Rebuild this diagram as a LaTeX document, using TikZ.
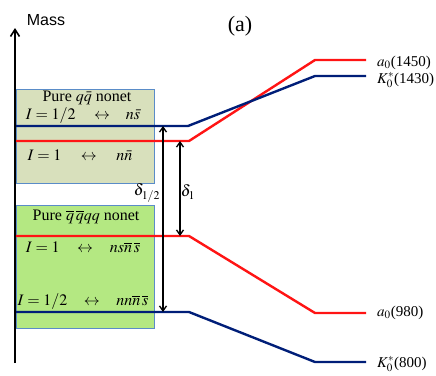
\documentclass[tikz,border=0pt]{standalone}
\usepackage{mathptmx}
\usepackage{fontspec}
\setmainfont{Liberation Serif}
\setsansfont{Liberation Sans}
\usetikzlibrary{arrows.meta}
\definecolor{levelred}{RGB}{255,20,20}
\definecolor{levelblue}{RGB}{0,30,120}
\definecolor{boxedge}{RGB}{90,140,200}
\definecolor{qqfill}{RGB}{216,224,188}
\definecolor{tetrafill}{RGB}{180,232,130}

\begin{document}
\begin{tikzpicture}[
    x=1pt, y=-1pt,
    nonet/.style={draw=boxedge, line width=0.8pt},
    level/.style={line width=2.4pt},
    split/.style={{Straight Barb[length=5pt,width=7pt]}-{Straight Barb[length=5pt,width=7pt]}, line width=1.3pt},
    state/.style={right, text=black, font=\fontsize{15}{17}\selectfont, inner sep=0pt, xshift=10pt},
    boxtext/.style={font=\fontsize{16}{18}\selectfont, inner sep=1pt}
]
  \useasboundingbox (0,0) rectangle (436,375);

  % the two pure nonets
  \draw[nonet, fill=qqfill] (16,89) rectangle (154,183);
  \draw[nonet, fill=tetrafill] (16,205) rectangle (154,328);
  \node[boxtext] (qqtitle) at (87,98) {Pure $q\bar{q}$ nonet};
  \node[boxtext] (qqhalf) at (83,116) {$I=1/2\hspace{15pt}\leftrightarrow\hspace{12pt}n\bar{s}$};
  \node[boxtext] (qqone) at (80,155) {$I=1\hspace{16pt}\leftrightarrow\hspace{16pt}n\bar{n}$};
  \node[boxtext] (tetratitle) at (86,217) {Pure $\overline{q}\,\overline{q}qq$ nonet};
  \node[boxtext] (tetraone) at (83,247) {$I=1\hspace{14pt}\leftrightarrow\hspace{13pt}ns\overline{n}\,\overline{s}$};
  \node[boxtext] (tetrahalf) at (83,302) {$I=1/2\hspace{13pt}\leftrightarrow\hspace{13pt}nn\overline{n}\,\overline{s}$};

  % mass axis
  \draw[-{Straight Barb[length=7pt,width=9pt]}, line width=1.6pt] (15,363) -- (15,28);
  \node[font=\sffamily\fontsize{16}{18}\selectfont] (mass) at (46,20) {Mass};
  \node[font=\fontsize{22}{24}\selectfont] (panel) at (240,26) {(a)};

  % levels
  \coordinate (halfA) at (16,126);  \coordinate (halfB) at (188,126);
  \coordinate (oneA) at (16,141);   \coordinate (oneB) at (189,141);
  \coordinate (oneC) at (16,236);   \coordinate (oneD) at (189,236);
  \coordinate (halfC) at (16,312);  \coordinate (halfD) at (189,312);

  \draw[level, levelred] (oneA) -- (oneB) -- (315,60) -- (366,60)
    node[state, yshift=-3pt] (a1450) {$a_0$(1450)};
  \draw[level, levelblue] (halfA) -- (halfB) -- (315,76) -- (366,76)
    node[state, yshift=-4pt] (k1430) {$K_0^*$(1430)};
  \draw[level, levelred] (oneC) -- (oneD) -- (315,313) -- (366,313)
    node[state] (a980) {$a_0$(980)};
  \draw[level, levelblue] (halfC) -- (halfD) -- (315,362) -- (366,362)
    node[state, yshift=-2pt] (k800) {$K_0^*$(800)};

  % splittings
  \draw[split] (163,126) -- (163,312);
  \draw[split] (180,141) -- (180,236);
  \node[font=\fontsize{16}{18}\selectfont] (dhalf) at (147,193) {$\delta_{1/2}$};
  \node[font=\fontsize{16}{18}\selectfont] (done) at (188,192) {$\delta_1$};
\end{tikzpicture}
\end{document}
